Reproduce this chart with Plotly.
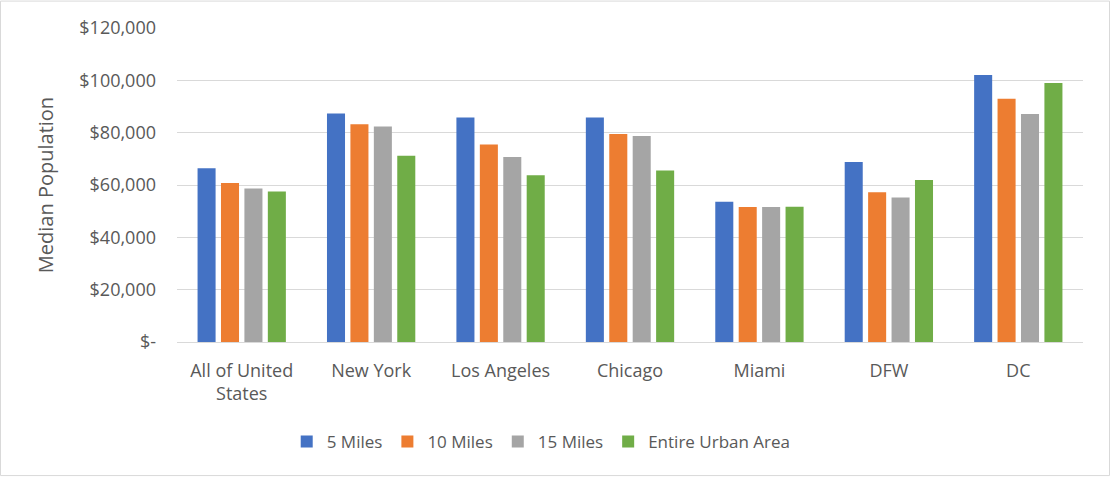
import plotly.graph_objects as go

categories = ["All of United<br>States", "New York", "Los Angeles", "Chicago", "Miami", "DFW", "DC"]
series_names = ["5 Miles", "10 Miles", "15 Miles", "Entire Urban Area"]
miles5 = [66400, 87300, 85800, 85800, 53600, 68800, 102000]
miles10 = [60800, 83200, 75500, 79500, 51600, 57200, 93000]
miles15 = [58700, 82400, 70700, 78700, 51600, 55200, 87100]
urban = [57500, 71200, 63700, 65500, 51700, 61900, 99000]
colors = ["#4472C4", "#ED7D31", "#A5A5A5", "#70AD47"]
tick_vals = [0, 20000, 40000, 60000, 80000, 100000, 120000]
tick_text = ["$-", "$20,000", "$40,000", "$60,000", "$80,000", "$100,000", "$120,000"]

FONT = "Open Sans"
TXT = "#595959"
fig = go.Figure()
for name, vals, col in zip(series_names, [miles5, miles10, miles15, urban], colors):
    fig.add_trace(go.Bar(x=categories, y=vals, name=name, marker=dict(color=col, line=dict(width=0))))

L, R, T, B = 177, 27, 27.5, 134.5
W, H = 1110, 477
pw, ph = W - L - R, H - T - B
fig.update_layout(
    width=W, height=H,
    margin=dict(l=L, r=R, t=T, b=B),
    paper_bgcolor="white", plot_bgcolor="white",
    barmode="group", bargap=0.276, bargroupgap=0.23,
    font=dict(family=FONT, color=TXT, size=17),
    legend=dict(orientation="h", x=0.402, xanchor="center", y=-0.318, yanchor="middle",
                font=dict(size=17, color=TXT), itemwidth=30, traceorder="normal"),
    xaxis=dict(showgrid=False, showline=True, linecolor="#d9d9d9", linewidth=1,
               tickfont=dict(size=18, color=TXT), ticks="", ticklabelstandoff=12),
    yaxis=dict(range=[0, 120000], tickvals=tick_vals, ticktext=tick_text,
               showgrid=True, gridcolor="#d9d9d9", gridwidth=1, zeroline=False,
               tickfont=dict(size=18, color=TXT), ticks="", ticklabelstandoff=20,
               title=dict(text="Median Population", font=dict(size=20, color=TXT), standoff=20)),
    shapes=[dict(type="rect", xref="paper", yref="paper",
                 x0=(0.5 - L) / pw, x1=(W - 0.5 - L) / pw,
                 y0=-(H - 0.5 - T - ph) / ph, y1=1 + (T - 0.5) / ph,
                 line=dict(color="#d9d9d9", width=1), fillcolor="rgba(0,0,0,0)")],
)
fig.write_html("out.html", config={"displayModeBar": False},
               post_script="document.body.style.margin='0';")
